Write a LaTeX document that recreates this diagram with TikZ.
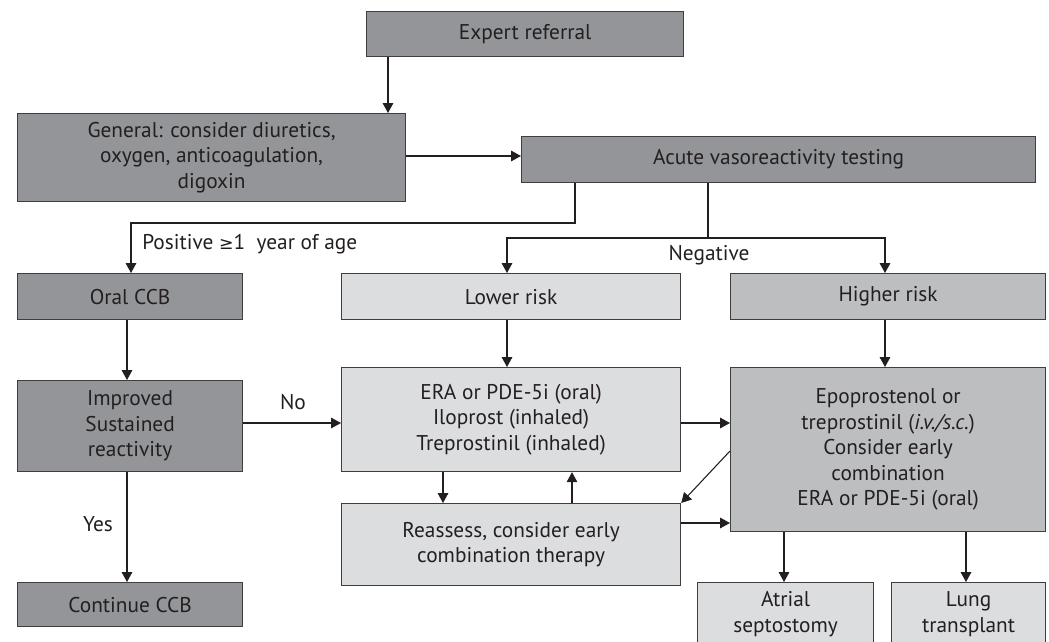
\documentclass[tikz,border=0pt]{standalone}
\usepackage{fontspec}
\setmainfont{PT Sans}
\newfontfamily\symfont{DejaVu Sans}
\usetikzlibrary{arrows.meta}
\definecolor{darkbox}{HTML}{939598}
\definecolor{midbox}{HTML}{BCBEC0}
\definecolor{lightbox}{HTML}{DCDDDE}
\definecolor{ink}{HTML}{231F20}
\definecolor{edgecol}{HTML}{3E3E40}
\begin{document}
\begin{tikzpicture}[x=0.75pt,y=-0.75pt,
  box/.style={draw=edgecol, line width=0.9pt, inner sep=0pt, align=center, text=ink,
    font=\fontsize{16}{19.2}\selectfont, anchor=north west},
  sz/.style 2 args={minimum width=#1*0.75pt, minimum height=#2*0.75pt},
  dark/.style={box, fill=darkbox},
  mid/.style={box, fill=midbox},
  light/.style={box, fill=lightbox},
  lbl/.style={text=ink, inner sep=0pt, font=\fontsize{16}{19.2}\selectfont},
  arr/.style={-{Triangle[length=7.5pt,width=8pt]}, line width=0.8pt, draw=ink},
  con/.style={line width=0.8pt, draw=ink}]
\useasboundingbox (0,0) rectangle (1049,642);
\clip (0,0) rectangle (1049,642);

% boxes
\node[dark, sz={317}{45}] (exp) at (366,11) {Expert referral};
\node[dark, sz={388}{88}] (gen) at (17,113) {General: consider diuretics,\\ oxygen, anticoagulation,\\ digoxin};
\node[dark, sz={514}{46}] (avt) at (521,136) {Acute vasoreactivity testing};
\node[dark, sz={225}{46}] (ccb) at (17,273) {Oral CCB};
\node[light, sz={339}{46}] (low) at (341,273) {Lower risk};
\node[mid, sz={315}{46}] (high) at (730,273) {Higher risk};
\node[dark, sz={225}{91}] (imp) at (17,380) {Improved\\ Sustained\\ reactivity};
\node[light, sz={339}{104}] (era) at (341,367) {ERA or PDE-5i (oral)\\ Iloprost (inhaled)\\ Treprostinil (inhaled)};
\node[mid, sz={315}{164}] (epo) at (730,367) {Epoprostenol or\\ treprostinil (\textit{i.v./s.c.})\\ Consider early\\ combination\\ ERA or PDE-5i (oral)};
\node[dark, sz={225}{44}] (ccb2) at (17,582) {Continue CCB};
\node[light, sz={339}{82}] (rea) at (341,503) {Reassess, consider early\\ combination therapy};
\node[light, sz={176}{63}] (atr) at (697,582) {Atrial\\ septostomy};
\node[light, sz={154}{63}] (lung) at (891,582) {Lung\\ transplant};

% helper coordinates
\coordinate (cA) at (388,0);
\coordinate (rA) at (0,156);
\coordinate (cP) at (575,0);
\coordinate (rP) at (0,223);
\coordinate (cQ) at (131,0);
\coordinate (cN) at (708,0);
\coordinate (rN) at (0,238);
\coordinate (cL) at (507,0);
\coordinate (cH) at (885,0);
\coordinate (cC) at (127,0);
\coordinate (rM) at (0,423);
\coordinate (cD) at (443,0);
\coordinate (cU) at (572,0);
\coordinate (rG) at (0,451);
\coordinate (rR) at (0,523);
\coordinate (cS) at (784,0);
\coordinate (cT) at (966,0);

% connectors
\draw[arr] (exp.south -| cA) -- (gen.north -| cA);
\draw[arr] (gen.east |- rA) -- (avt.west |- rA);
\draw[arr] (avt.south -| cP) -- (cP |- rP) -- (cQ |- rP) -- (ccb.north -| cQ);
\draw[con] (avt.south -| cN) -- (cN |- rN);
\draw[arr] (cN |- rN) -- (cL |- rN) -- (low.north -| cL);
\draw[arr] (cN |- rN) -- (cH |- rN) -- (high.north -| cH);
\draw[arr] (ccb.south -| cC) -- (imp.north -| cC);
\draw[arr] (imp.south -| cC) -- (ccb2.north -| cC);
\draw[arr] (imp.east |- rM) -- (era.west |- rM);
\draw[arr] (era.east |- rM) -- (epo.west |- rM);
\draw[arr] (low.south -| cL) -- (era.north -| cL);
\draw[arr] (high.south -| cH) -- (epo.north -| cH);
\draw[arr] (era.south -| cD) -- (rea.north -| cD);
\draw[arr] (rea.north -| cU) -- (era.south -| cU);
\draw[arr] (epo.west |- rG) -- (rea.north east);
\draw[arr] (rea.east |- rR) -- (epo.west |- rR);
\draw[arr] (epo.south -| cS) -- (atr.north -| cS);
\draw[arr] (epo.south -| cT) -- (lung.north -| cT);

% labels
\node[lbl, anchor=west] (pos) at (142,244) {Positive {\symfont\fontsize{13}{15}\selectfont ≥}1\ \ year of age};
\node[lbl] (neg) at (709,255) {Negative};
\node[lbl] (no) at (293,402) {No};
\node[lbl] (yes) at (98,524) {Yes};
\end{tikzpicture}
\end{document}
